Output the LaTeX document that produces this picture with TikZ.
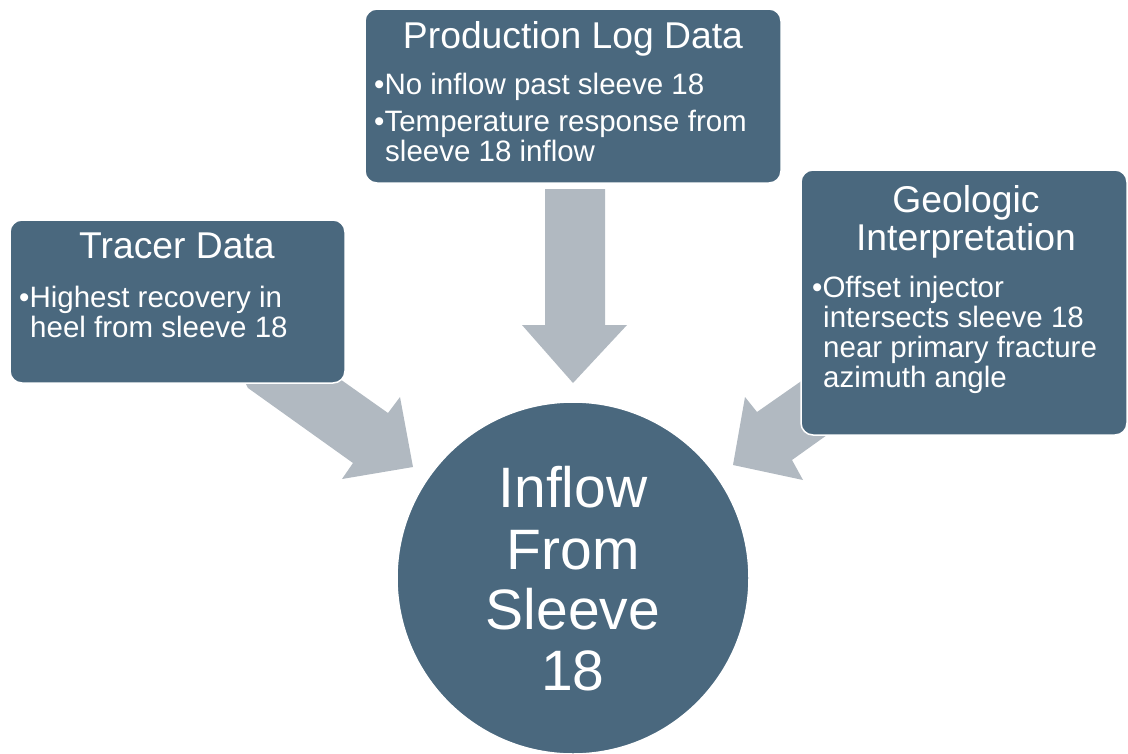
\documentclass[tikz,border=0pt]{standalone}
\usepackage{fontspec}
\setmainfont{Liberation Sans}
\definecolor{boxblue}{HTML}{4A687E}
\definecolor{arrowgray}{HTML}{B1B9C1}
\tikzset{
  panel/.style={fill=boxblue, draw=white, line width=1.5pt, rounded corners=12pt},
  bigarrow/.style={fill=arrowgray, draw=none},
  title/.style={text=white, font=\fontsize{37.3}{40}\selectfont, anchor=base, inner sep=0pt},
  bullet/.style={text=white, font=\fontsize{29.5}{30}\selectfont, anchor=base west, inner sep=0pt},
  center/.style={text=white, font=\fontsize{57}{62}\selectfont, anchor=base, inner sep=0pt}
}
\begin{document}
\begin{tikzpicture}[x=1pt,y=-1pt]
\useasboundingbox (0,0) rectangle (1128,753);
% arrows
\fill[bigarrow] (545,189) -- (605,189) -- (605,325) -- (627,325) -- (573,383) -- (522,325) -- (545,325) -- cycle;
\fill[bigarrow] (248,388) -- (353,463) -- (342,479) -- (413,467) -- (400,397) -- (388,413) -- (330,372) -- (240,372) -- cycle;
\fill[bigarrow] (745,397) -- (757,412) -- (810,375) -- (834,430) -- (792,460) -- (803,480) -- (733,465) -- cycle;
% circle
\node[circle, fill=boxblue, draw=white, line width=1.5pt, minimum size=352pt, inner sep=0pt] (hub) at (573,578) {};
\node[center] (c1) at (573,507) {Inflow};
\node[center] (c2) at (573,569) {From};
\node[center] (c3) at (573,629) {Sleeve};
\node[center] (c4) at (573,690) {18};
% production box
\draw[panel] (365,9) rectangle (781,183);
\node[title] (pt) at (573,48) {Production Log Data};
\node[bullet] (pb1) at (374,94) {•No inflow past sleeve 18};
\node[bullet] (pb2) at (374,131) {•Temperature response from};
\node[bullet] (pb3) at (385,161) {sleeve 18 inflow};
% tracer box
\draw[panel] (10,220) rectangle (345,383);
\node[title] (tt) at (177,258) {Tracer Data};
\node[bullet] (tb1) at (19,307) {•Highest recovery in};
\node[bullet] (tb2) at (30,337) {heel from sleeve 18};
% geologic box
\draw[panel] (801,170) rectangle (1127,435);
\node[title] (gt1) at (966,212) {Geologic};
\node[title] (gt2) at (966,250) {Interpretation};
\node[bullet] (gb1) at (812,297) {•Offset injector};
\node[bullet] (gb2) at (823,327) {intersects sleeve 18};
\node[bullet] (gb3) at (823,357) {near primary fracture};
\node[bullet] (gb4) at (823,387) {azimuth angle};
\end{tikzpicture}
\end{document}
